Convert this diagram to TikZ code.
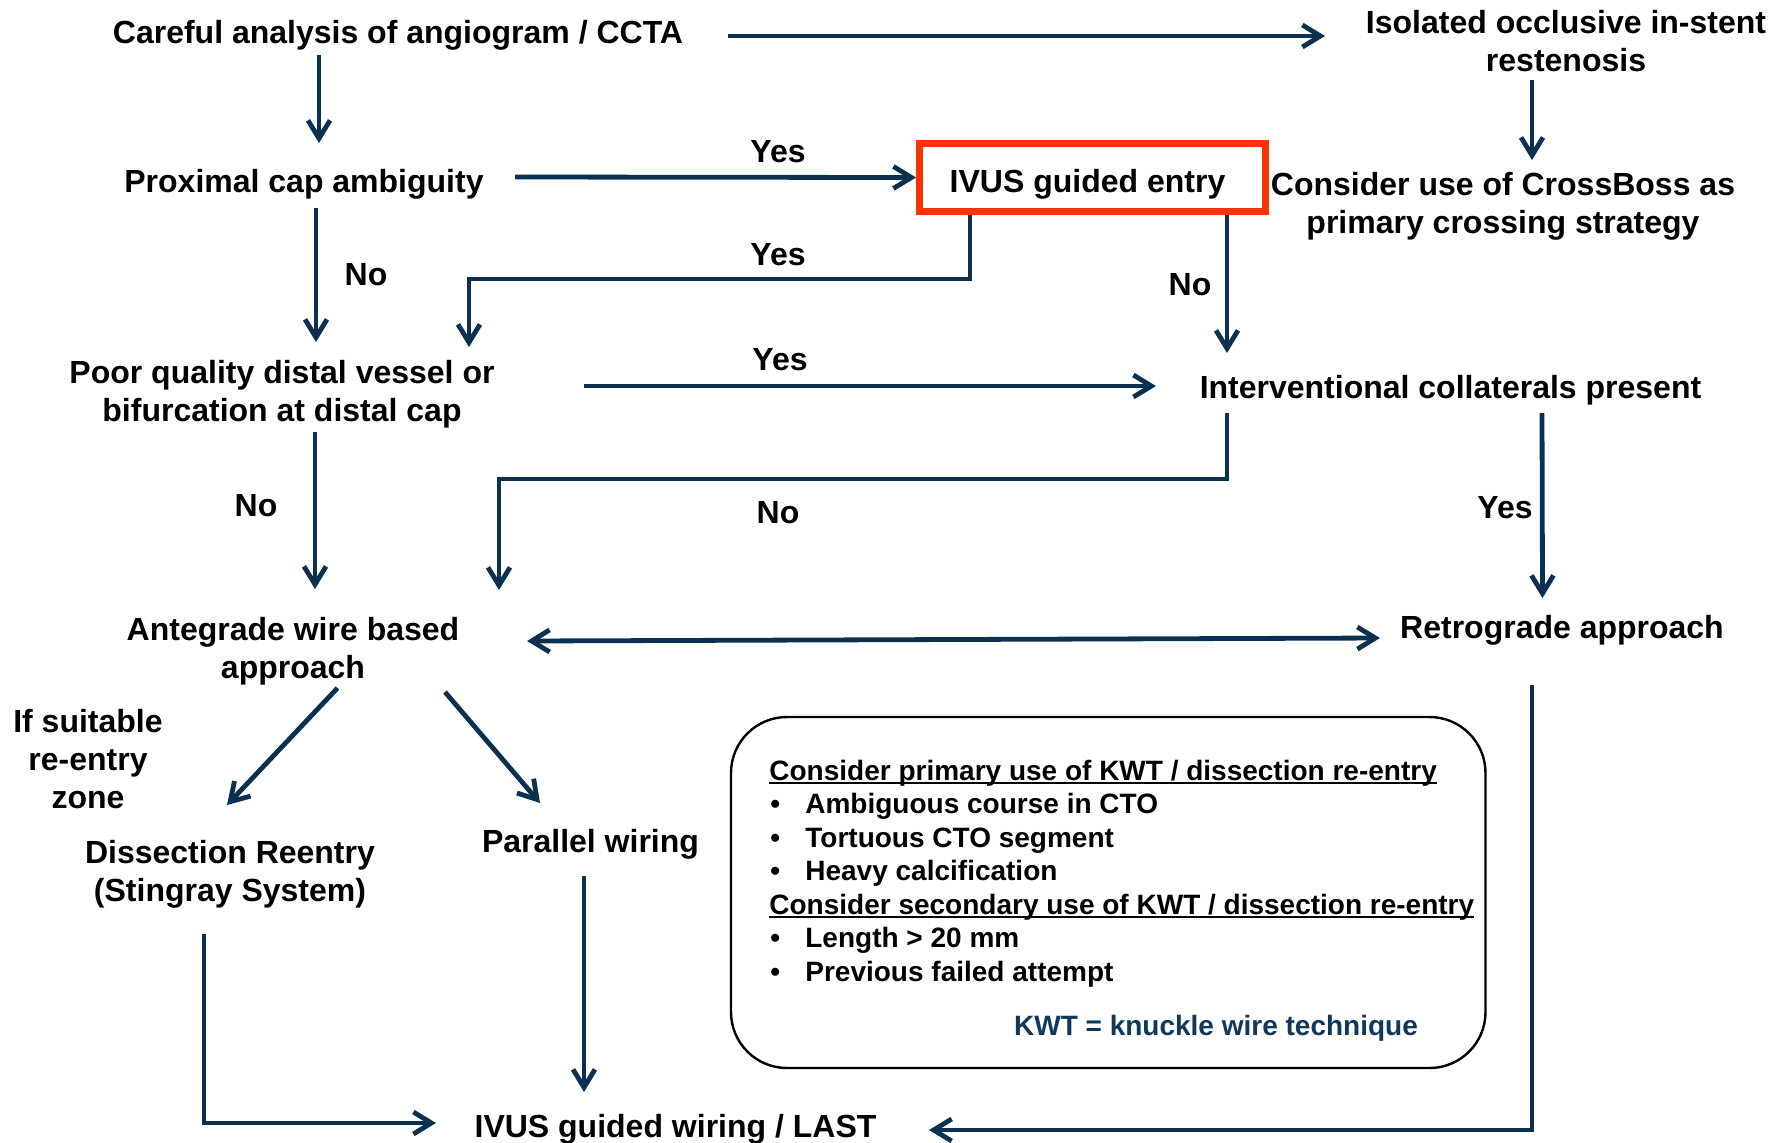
\documentclass[tikz,border=0pt]{standalone}
\usepackage{fontspec}
\setmainfont{Liberation Sans}
\usetikzlibrary{arrows.meta,calc}
\definecolor{navy}{RGB}{12,48,80}
\definecolor{boxred}{RGB}{255,51,0}
\definecolor{kwtblue}{RGB}{14,56,92}
\newcommand\ulinetext[1]{\setbox0\hbox{#1}\rlap{\rule[-2pt]{\wd0}{1pt}}\box0}
\begin{document}
\begin{tikzpicture}[x=0.5pt,y=-0.5pt,
  lbl/.style={font=\fontsize{16}{19}\selectfont\bfseries, inner sep=0pt, align=center},
  small/.style={font=\fontsize{14}{16.75}\selectfont\bfseries, inner sep=0pt, anchor=base west},
  arr/.style={draw=navy, line width=2.4pt, -{Straight Barb[length=9pt,width=11pt]}},
  arrboth/.style={draw=navy, line width=2.4pt, {Straight Barb[length=9pt,width=11pt]}-{Straight Barb[length=9pt,width=11pt]}}]
\useasboundingbox (0,0) rectangle (1787,1142);

% main nodes
\node[lbl, anchor=base] (careful) at (398,43) {Careful analysis of angiogram / CCTA};
\node[lbl, anchor=north] (isolated) at (1566,10) {Isolated occlusive in-stent\\restenosis};
\node[lbl, anchor=base] (proximal) at (304,192) {Proximal cap ambiguity};
\node[draw=boxred, line width=3.5pt, minimum width=173pt, minimum height=34pt, inner sep=0pt,
      text height=14.5pt, text depth=0pt, font=\fontsize{16}{19}\selectfont\bfseries] (ivus) at (1092.5,177.5) {IVUS guided entry\hspace*{5pt}};
\node[lbl, anchor=north] (crossboss) at (1503,172) {Consider use of CrossBoss as\\primary crossing strategy};
\node[lbl, anchor=north] (poor) at (282,360) {Poor quality distal vessel or\\bifurcation at distal cap};
\node[lbl, anchor=base] (interv) at (1450.5,398) {Interventional collaterals present};
\node[lbl, anchor=north] (ante) at (293,617) {Antegrade wire based\\approach};
\node[lbl, anchor=base] (retro) at (1562,638) {Retrograde approach};
\node[lbl, anchor=north] (ifsuit) at (88,709) {If suitable\\re-entry\\zone};
\node[lbl, anchor=north] (dissec) at (230,840) {Dissection Reentry\\(Stingray System)};
\node[lbl, anchor=base] (parallel) at (590.5,852.5) {Parallel wiring};
\node[lbl, anchor=base] (last) at (675.5,1137) {IVUS guided wiring / LAST};

% yes / no labels
\node[lbl, anchor=base] (yes1) at (778,162) {Yes};
\node[lbl, anchor=base] (no1) at (366,285) {No};
\node[lbl, anchor=base] (yes2) at (778,265) {Yes};
\node[lbl, anchor=base] (no2) at (1190,295) {No};
\node[lbl, anchor=base] (yes3) at (780,370) {Yes};
\node[lbl, anchor=base] (no3) at (256,516) {No};
\node[lbl, anchor=base] (no4) at (778,523) {No};
\node[lbl, anchor=base] (yes4) at (1505,518) {Yes};

% note box
\node[draw=black, line width=1.2pt, rounded corners=28pt, minimum width=377.25pt, minimum height=175.5pt, inner sep=0pt] (notebox) at (1108.25,892.5) {};
\node[small] (n1) at (769,780) {\ulinetext{Consider primary use of KWT / dissection re-entry}};
\node[small] (n2) at (769,813.5) {\makebox[18pt][l]{\hspace{0.5pt}\textbullet}Ambiguous course in CTO};
\node[small] (n3) at (769,847) {\makebox[18pt][l]{\hspace{0.5pt}\textbullet}Tortuous CTO segment};
\node[small] (n4) at (769,880.5) {\makebox[18pt][l]{\hspace{0.5pt}\textbullet}Heavy calcification};
\node[small] (n5) at (769,914) {\ulinetext{Consider secondary use of KWT / dissection re-entry}};
\node[small] (n6) at (769,947.5) {\makebox[18pt][l]{\hspace{0.5pt}\textbullet}Length > 20 mm};
\node[small] (n7) at (769,981) {\makebox[18pt][l]{\hspace{0.5pt}\textbullet}Previous failed attempt};
\node[small, anchor=base, text=kwtblue] (kwt) at (1216,1035) {KWT = knuckle wire technique};

% connectors
\draw[arr] ($(careful.base)+(330,-7)$) -- ($(isolated.north)+(-241,26)$);
\draw[arr] ($(careful.base)+(-79,12)$) -- ($(proximal.base)+(15,-49)$);
\draw[arr] ($(isolated.north)+(-34,70)$) -- ($(crossboss.north)+(29,-12)$);
\draw[arr] ($(proximal.base)+(211,-15)$) -- (ivus.west);
\draw[arr] ($(proximal.base)+(12,16)$) -- ($(poor.north)+(34,-18)$);
\draw[arr] ($(ivus.south)+(-122.5,0)$) -- ++(0,64) -| ($(poor.north)+(187,-13)$);
\draw[arr] ($(ivus.south)+(134.5,0)$) -- ($(interv.base)+(-223.5,-45)$);
\draw[arr] ($(poor.north)+(302,26)$) -- ($(interv.base)+(-294.5,-12)$);
\draw[arr] ($(poor.north)+(33,72)$) -- ($(ante.north)+(22,-28)$);
\draw[arr] ($(interv.base)+(-223.5,15)$) -- ++(0,66) -| ($(ante.north)+(206,-27)$);
\draw[arr] ($(interv.base)+(91.5,15)$) -- ($(retro.base)+(-19.5,-40)$);
\draw[arrboth] ($(ante.north)+(234,24)$) -- ($(retro.base)+(-182,0)$);
\draw[arr] ($(ante.north)+(44.5,71)$) -- ($(dissec.north)+(-3,-35)$);
\draw[arr] ($(ante.north)+(152,75)$) -- ($(parallel.base)+(-50.5,-49.5)$);
\draw[arr] ($(dissec.north)+(-26,94)$) |- ($(last.base)+(-239.5,-14)$);
\draw[arr] ($(parallel.base)+(-6.5,23.5)$) -- ($(last.base)+(-91.5,-45)$);
\draw[arr] ($(retro.base)+(-30,47)$) |- ($(last.base)+(253.5,-7)$);
\end{tikzpicture}
\end{document}
